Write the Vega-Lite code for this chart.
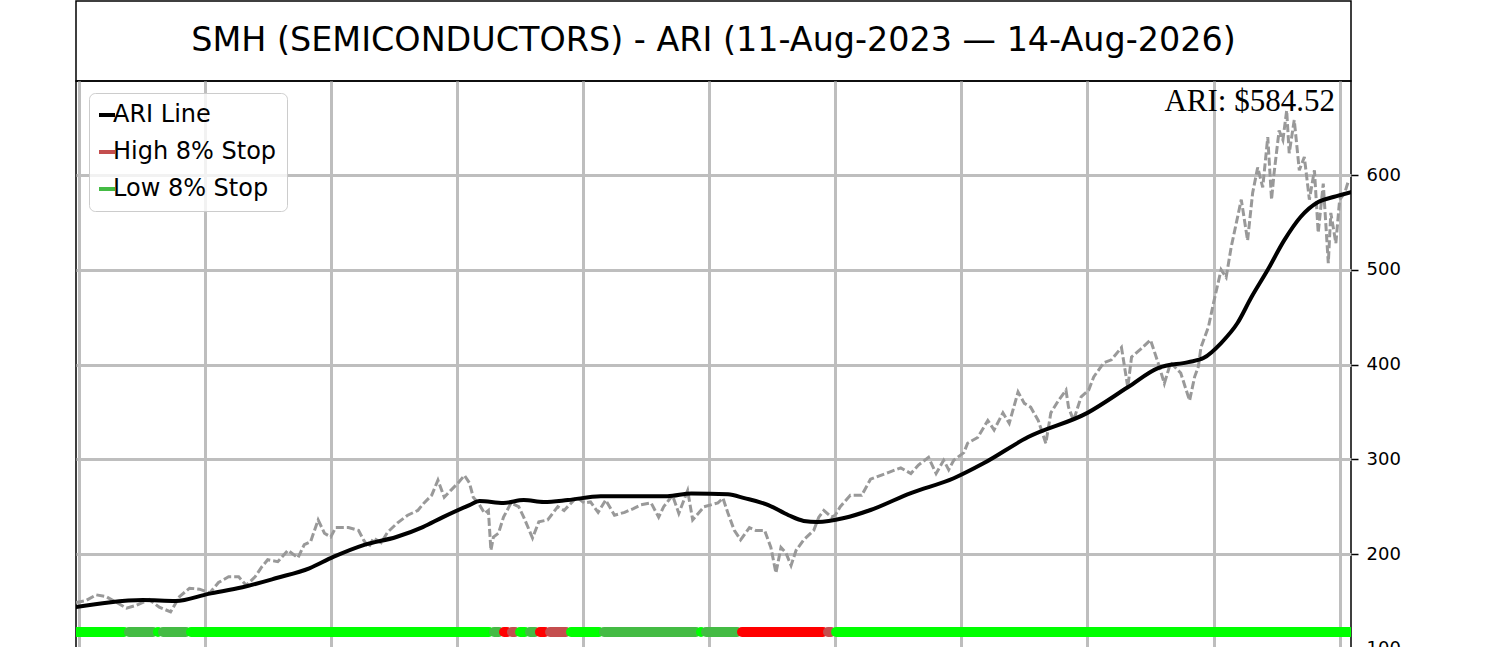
{
  "$schema": "https://vega.github.io/schema/vega-lite/v6.json",
  "background": "white",
  "padding": {"left": 75, "top": 0, "right": 0, "bottom": 0},
  "spacing": 0,
  "bounds": "flush",
  "config": {
    "font": "DejaVu Sans",
    "view": {"stroke": "black", "strokeWidth": 1.5},
    "axis": {"gridColor": "#bebebe", "gridWidth": 3, "gridOpacity": 1}
  },
  "datasets": {
    "price": [
      {"day": -2, "price": 149}, {"day": 6, "price": 151}, {"day": 14, "price": 157}, {"day": 22, "price": 155},
      {"day": 30, "price": 149}, {"day": 38, "price": 143}, {"day": 46, "price": 146}, {"day": 56, "price": 152},
      {"day": 64, "price": 144}, {"day": 73, "price": 139}, {"day": 80, "price": 155}, {"day": 88, "price": 164},
      {"day": 96, "price": 163}, {"day": 104, "price": 159}, {"day": 111, "price": 170}, {"day": 119, "price": 176},
      {"day": 127, "price": 176}, {"day": 133, "price": 167}, {"day": 140, "price": 176}, {"day": 145, "price": 186},
      {"day": 150, "price": 194}, {"day": 158, "price": 192}, {"day": 166, "price": 204}, {"day": 174, "price": 196},
      {"day": 179, "price": 210}, {"day": 184, "price": 213}, {"day": 190, "price": 236}, {"day": 195, "price": 222},
      {"day": 200, "price": 218}, {"day": 204, "price": 228}, {"day": 214, "price": 228}, {"day": 222, "price": 225},
      {"day": 226, "price": 215}, {"day": 230, "price": 207}, {"day": 234, "price": 217}, {"day": 240, "price": 212},
      {"day": 245, "price": 223}, {"day": 253, "price": 233}, {"day": 261, "price": 241}, {"day": 269, "price": 246},
      {"day": 274, "price": 254}, {"day": 280, "price": 262}, {"day": 285, "price": 278}, {"day": 290, "price": 260},
      {"day": 295, "price": 267}, {"day": 301, "price": 275}, {"day": 306, "price": 283}, {"day": 310, "price": 275},
      {"day": 313, "price": 260}, {"day": 317, "price": 254}, {"day": 322, "price": 243}, {"day": 325, "price": 246},
      {"day": 327, "price": 204}, {"day": 329, "price": 218}, {"day": 333, "price": 222}, {"day": 337, "price": 239},
      {"day": 343, "price": 254}, {"day": 349, "price": 250}, {"day": 353, "price": 239}, {"day": 360, "price": 217},
      {"day": 365, "price": 234}, {"day": 372, "price": 236}, {"day": 380, "price": 250}, {"day": 385, "price": 246},
      {"day": 395, "price": 260}, {"day": 401, "price": 254}, {"day": 406, "price": 255}, {"day": 412, "price": 244},
      {"day": 418, "price": 257}, {"day": 425, "price": 241}, {"day": 433, "price": 244}, {"day": 440, "price": 248},
      {"day": 446, "price": 252}, {"day": 454, "price": 254}, {"day": 460, "price": 239}, {"day": 464, "price": 250},
      {"day": 471, "price": 262}, {"day": 476, "price": 243}, {"day": 483, "price": 267}, {"day": 487, "price": 236},
      {"day": 496, "price": 250}, {"day": 507, "price": 254}, {"day": 511, "price": 259}, {"day": 515, "price": 243},
      {"day": 520, "price": 225}, {"day": 525, "price": 215}, {"day": 532, "price": 228}, {"day": 537, "price": 225},
      {"day": 544, "price": 225}, {"day": 549, "price": 207}, {"day": 553, "price": 180}, {"day": 557, "price": 207},
      {"day": 561, "price": 201}, {"day": 565, "price": 188}, {"day": 569, "price": 204}, {"day": 575, "price": 215},
      {"day": 583, "price": 225}, {"day": 587, "price": 239}, {"day": 591, "price": 246}, {"day": 597, "price": 239},
      {"day": 600, "price": 241}, {"day": 604, "price": 250}, {"day": 612, "price": 262}, {"day": 621, "price": 262},
      {"day": 628, "price": 279}, {"day": 642, "price": 286}, {"day": 652, "price": 291}, {"day": 660, "price": 285},
      {"day": 666, "price": 294}, {"day": 674, "price": 302}, {"day": 680, "price": 285}, {"day": 686, "price": 299},
      {"day": 690, "price": 289}, {"day": 694, "price": 299}, {"day": 702, "price": 307}, {"day": 705, "price": 317},
      {"day": 713, "price": 323}, {"day": 721, "price": 341}, {"day": 726, "price": 331}, {"day": 733, "price": 349},
      {"day": 738, "price": 338}, {"day": 745, "price": 371}, {"day": 750, "price": 359}, {"day": 755, "price": 355},
      {"day": 761, "price": 341}, {"day": 767, "price": 317}, {"day": 771, "price": 349}, {"day": 777, "price": 362},
      {"day": 783, "price": 373}, {"day": 785, "price": 355}, {"day": 789, "price": 341}, {"day": 795, "price": 366},
      {"day": 801, "price": 373}, {"day": 805, "price": 387}, {"day": 813, "price": 402}, {"day": 819, "price": 405},
      {"day": 827, "price": 418}, {"day": 832, "price": 376}, {"day": 835, "price": 408}, {"day": 842, "price": 416},
      {"day": 850, "price": 426}, {"day": 856, "price": 402}, {"day": 861, "price": 380}, {"day": 866, "price": 402},
      {"day": 874, "price": 391}, {"day": 881, "price": 362}, {"day": 885, "price": 387}, {"day": 888, "price": 398},
      {"day": 890, "price": 418}, {"day": 896, "price": 440}, {"day": 900, "price": 465}, {"day": 906, "price": 500},
      {"day": 910, "price": 492}, {"day": 914, "price": 524}, {"day": 918, "price": 549}, {"day": 922, "price": 574},
      {"day": 927, "price": 531}, {"day": 931, "price": 581}, {"day": 935, "price": 608}, {"day": 939, "price": 587},
      {"day": 943, "price": 640}, {"day": 946, "price": 574}, {"day": 948, "price": 602}, {"day": 952, "price": 647},
      {"day": 955, "price": 637}, {"day": 958, "price": 668}, {"day": 960, "price": 623}, {"day": 964, "price": 658},
      {"day": 968, "price": 605}, {"day": 972, "price": 619}, {"day": 976, "price": 574}, {"day": 980, "price": 605},
      {"day": 983, "price": 539}, {"day": 987, "price": 591}, {"day": 991, "price": 507}, {"day": 993, "price": 560},
      {"day": 997, "price": 528}, {"day": 1000, "price": 574}, {"day": 1004, "price": 581}, {"day": 1007, "price": 594}
    ],
    "ari": [
      {"day": -2, "ari": 144}, {"day": 24, "ari": 149}, {"day": 51, "ari": 151.5}, {"day": 77, "ari": 150.5},
      {"day": 103, "ari": 158}, {"day": 130, "ari": 165}, {"day": 157, "ari": 174.7}, {"day": 183, "ari": 185},
      {"day": 202, "ari": 197}, {"day": 226, "ari": 209.5}, {"day": 252, "ari": 218}, {"day": 273, "ari": 228.5},
      {"day": 289, "ari": 239}, {"day": 310, "ari": 251.7}, {"day": 318, "ari": 256}, {"day": 337, "ari": 254},
      {"day": 353, "ari": 257}, {"day": 369, "ari": 255}, {"day": 388, "ari": 257}, {"day": 414, "ari": 261},
      {"day": 440, "ari": 261}, {"day": 467, "ari": 261}, {"day": 486, "ari": 264}, {"day": 515, "ari": 263},
      {"day": 528, "ari": 259}, {"day": 547, "ari": 251.7}, {"day": 563, "ari": 241}, {"day": 575, "ari": 235},
      {"day": 586, "ari": 233.8}, {"day": 607, "ari": 238}, {"day": 628, "ari": 246.5}, {"day": 660, "ari": 264.4},
      {"day": 694, "ari": 280}, {"day": 718, "ari": 296}, {"day": 753, "ari": 323.5}, {"day": 800, "ari": 349},
      {"day": 832, "ari": 376}, {"day": 856, "ari": 396.3}, {"day": 880, "ari": 402.6}, {"day": 892, "ari": 406.8},
      {"day": 906, "ari": 422.7}, {"day": 919, "ari": 443.8}, {"day": 930, "ari": 471}, {"day": 943, "ari": 500},
      {"day": 956, "ari": 531}, {"day": 969, "ari": 555.7}, {"day": 983, "ari": 571.5}, {"day": 995, "ari": 576.8},
      {"day": 1009, "ari": 582}
    ],
    "stops": [
      {"start": -2, "end": 36.1, "stop": "Low 8% Stop Hit"},
      {"start": 40.0, "end": 59.1, "stop": "Low 8% Stop"},
      {"start": 63.0, "end": 63.0, "stop": "Low 8% Stop Hit"},
      {"start": 67.0, "end": 85.2, "stop": "Low 8% Stop"},
      {"start": 89.2, "end": 325.5, "stop": "Low 8% Stop Hit"},
      {"start": 329.5, "end": 333.4, "stop": "Low 8% Stop"},
      {"start": 337.4, "end": 339.8, "stop": "High 8% Stop Hit"},
      {"start": 343.7, "end": 346.1, "stop": "High 8% Stop"},
      {"start": 350.1, "end": 354.0, "stop": "Low 8% Stop Hit"},
      {"start": 358.0, "end": 362.0, "stop": "Low 8% Stop"},
      {"start": 365.9, "end": 369.9, "stop": "High 8% Stop Hit"},
      {"start": 373.9, "end": 386.5, "stop": "High 8% Stop"},
      {"start": 390.5, "end": 412.7, "stop": "Low 8% Stop Hit"},
      {"start": 416.7, "end": 489.6, "stop": "Low 8% Stop"},
      {"start": 493.6, "end": 493.6, "stop": "Low 8% Stop Hit"},
      {"start": 497.6, "end": 522.2, "stop": "Low 8% Stop"},
      {"start": 526.1, "end": 590.3, "stop": "High 8% Stop Hit"},
      {"start": 594.3, "end": 596.7, "stop": "High 8% Stop"},
      {"start": 600.7, "end": 1009, "stop": "Low 8% Stop Hit"}
    ]
  },
  "vconcat": [
    {
      "width": 1275,
      "height": 80,
      "data": {"values": [{"title": "SMH (SEMICONDUCTORS) - ARI (11-Aug-2023 — 14-Aug-2026)", "pos": 0.5}]},
      "mark": {"type": "text", "font": "DejaVu Sans", "fontSize": 33.4, "align": "center", "baseline": "middle", "color": "black"},
      "encoding": {
        "x": {"field": "pos", "type": "quantitative", "scale": {"domain": [0, 1]}, "axis": null},
        "y": {"field": "pos", "type": "quantitative", "scale": {"domain": [0, 1]}, "axis": null},
        "text": {"field": "title", "type": "nominal"}
      }
    },
    {
      "width": 1275,
      "height": 583,
      "encoding": {
        "x": {
          "field": "day",
          "type": "quantitative",
          "scale": {"domain": [-2, 1009], "nice": false, "zero": false},
          "axis": {"values": [0, 100, 200, 300, 400, 500, 600, 700, 800, 900, 1000], "labels": false, "ticks": false, "domain": false, "title": null}
        }
      },
      "layer": [
        {
          "data": {"name": "price"},
          "mark": {"type": "line", "color": "#999999", "strokeWidth": 3, "strokeDash": [8, 3], "clip": true},
          "encoding": {
            "y": {
              "field": "price",
              "type": "quantitative",
              "scale": {"domain": [84, 699.2], "nice": false, "zero": false},
              "axis": {
                "orient": "right",
                "values": [100, 200, 300, 400, 500, 600],
                "title": null,
                "domain": false,
                "tickColor": "black",
                "tickSize": 7,
                "tickWidth": 1.5,
                "labelPadding": 8,
                "labelFont": "DejaVu Sans",
                "labelFontSize": 18,
                "labelColor": "black"
              }
            }
          }
        },
        {
          "data": {"name": "ari"},
          "mark": {"type": "line", "strokeWidth": 4, "interpolate": "monotone", "strokeCap": "round", "clip": true},
          "encoding": {
            "y": {"field": "ari", "type": "quantitative"},
            "color": {"datum": "ARI Line", "type": "nominal"}
          }
        },
        {
          "data": {"name": "stops"},
          "mark": {"type": "rule", "strokeWidth": 10, "strokeCap": "round", "clip": true},
          "encoding": {
            "x": {"field": "start", "type": "quantitative"},
            "x2": {"field": "end"},
            "y": {"datum": 117.7, "type": "quantitative"},
            "color": {
              "field": "stop",
              "type": "nominal",
              "scale": {
                "domain": ["ARI Line", "High 8% Stop", "Low 8% Stop", "High 8% Stop Hit", "Low 8% Stop Hit"],
                "range": ["#000000", "#c44e4e", "#44bb44", "#ff0000", "#00ff00"]
              },
              "legend": {
                "values": ["ARI Line", "High 8% Stop", "Low 8% Stop"],
                "title": null,
                "orient": "none",
                "legendX": 13,
                "legendY": 92,
                "direction": "vertical",
                "symbolType": "stroke",
                "symbolSize": 256,
                "symbolStrokeWidth": 4,
                "symbolOffset": -4,
                "labelFont": "DejaVu Sans",
                "labelFontSize": 24,
                "labelColor": "black",
                "labelOffset": -6,
                "labelLimit": 400,
                "rowPadding": 13,
                "padding": 10,
                "fillColor": "rgba(255,255,255,0.8)",
                "strokeColor": "#cccccc",
                "cornerRadius": 6
              }
            }
          }
        },
        {
          "data": {"values": [{"label": "ARI: $584.52", "day": 996.3, "price": 667.6}]},
          "mark": {"type": "text", "font": "Liberation Serif", "fontSize": 31, "align": "right", "baseline": "alphabetic", "color": "black"},
          "encoding": {
            "y": {"field": "price", "type": "quantitative"},
            "text": {"field": "label", "type": "nominal"}
          }
        }
      ]
    }
  ]
}
